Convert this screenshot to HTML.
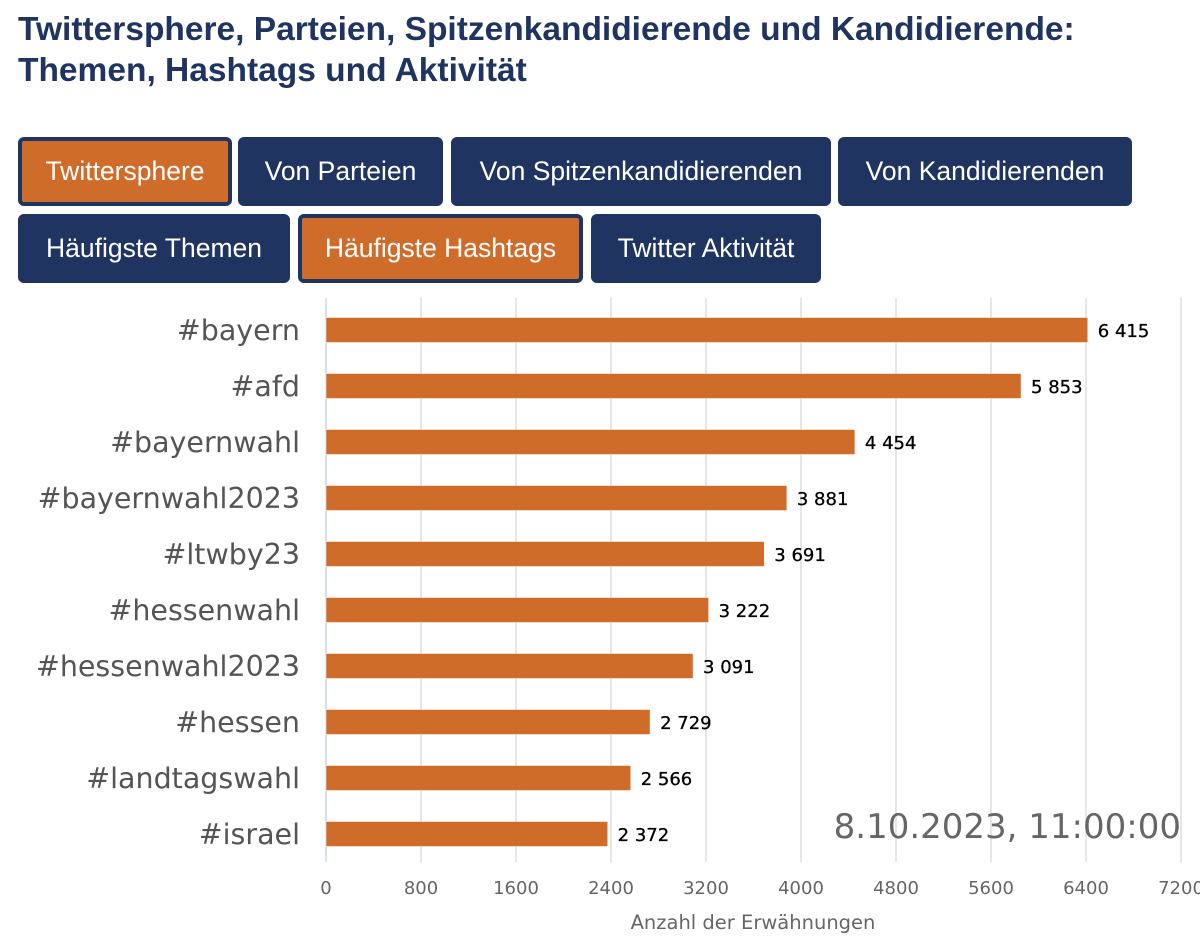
<!DOCTYPE html>
<html><head><meta charset="utf-8"><style>
body{margin:0;width:1200px;height:944px;background:#fff;font-family:"Liberation Sans",sans-serif;position:relative;overflow:hidden}
h1{position:absolute;left:18px;top:9px;margin:0;font-size:33.5px;line-height:41px;color:#1f3461;font-weight:bold}
.btn{position:absolute;height:69px;box-sizing:border-box;background:#1f3461;color:#fff;font-size:26.5px;display:flex;align-items:center;justify-content:center;border-radius:6px;border:1px solid #1f3461}
.btn.on{background:#d06c2a;border:4px solid #1f3461}
svg{position:absolute;left:0;top:0}
</style></head><body>
<h1>Twittersphere, Parteien, Spitzenkandidierende und Kandidierende:<br>Themen, Hashtags und Aktivität</h1>
<div class="btn on" style="left:18px;top:137px;width:214px">Twittersphere</div>
<div class="btn" style="left:238px;top:137px;width:205px">Von Parteien</div>
<div class="btn" style="left:451px;top:137px;width:380px">Von Spitzenkandidierenden</div>
<div class="btn" style="left:838px;top:137px;width:294px">Von Kandidierenden</div>
<div class="btn" style="left:18px;top:214px;width:272px">Häufigste Themen</div>
<div class="btn on" style="left:298px;top:214px;width:285px">Häufigste Hashtags</div>
<div class="btn" style="left:591px;top:214px;width:230px">Twitter Aktivität</div>
<svg id="chart" width="1200" height="944"></svg>
<script>
const categories=["#bayern","#afd","#bayernwahl","#bayernwahl2023","#ltwby23","#hessenwahl","#hessenwahl2023","#hessen","#landtagswahl","#israel"];
const values=[6415,5853,4454,3881,3691,3222,3091,2729,2566,2372];
const valueLabels=["6 415","5 853","4 454","3 881","3 691","3 222","3 091","2 729","2 566","2 372"];
const ticks=[0,800,1600,2400,3200,4000,4800,5600,6400,7200];
const NS="http://www.w3.org/2000/svg";
const svg=document.getElementById('chart');
const x0=326,xScale=855/7200,top0=302,step=56,bh=25;
const xs=v=>x0+v*xScale;
const yc=i=>top0+step*i+step/2;
function mk(t,a,txt){const e=document.createElementNS(NS,t);for(const k in a)e.setAttribute(k,a[k]);if(txt!=null)e.textContent=txt;svg.appendChild(e);return e;}
ticks.forEach((t,i)=>{
 const g=mk('line',{x1:xs(t),x2:xs(t),y1:298,y2:862,stroke:i==0?'#ccd6eb':'#e6e6e6','stroke-width':i==0?1.5:2});
 
 
 const l=mk('text',{x:xs(t),y:894,'text-anchor':'middle','font-family':'DejaVu Sans, sans-serif','font-size':18,fill:'#666'},String(t));
 
 
});
categories.forEach((c,i)=>{
 const r=mk('rect',{x:x0,y:yc(i)-bh/2,width:xs(values[i])-x0,height:bh,fill:'#d06c2a',stroke:'#fff','stroke-width':0.5});
 
 
 const v=mk('text',{x:xs(values[i])+10,y:yc(i)+7,'font-family':'DejaVu Sans, sans-serif','font-size':18,'font-weight':'500',fill:'#000',stroke:'#000','stroke-width':0.3},valueLabels[i]);
 
 
 const l=mk('text',{x:300,y:yc(i)+10,'text-anchor':'end','font-family':'DejaVu Sans, sans-serif','font-size':28.5,fill:'#555'},c);
 
 
});
const at=mk('text',{x:753,y:929,'text-anchor':'middle','font-family':'DejaVu Sans, sans-serif','font-size':19.5,fill:'#666'},'Anzahl der Erwähnungen');


const ts=mk('text',{x:1181,y:838,'text-anchor':'end','font-family':'DejaVu Sans, sans-serif','font-size':34,fill:'#666'},'8.10.2023, 11:00:00');


</script>
</body></html>
